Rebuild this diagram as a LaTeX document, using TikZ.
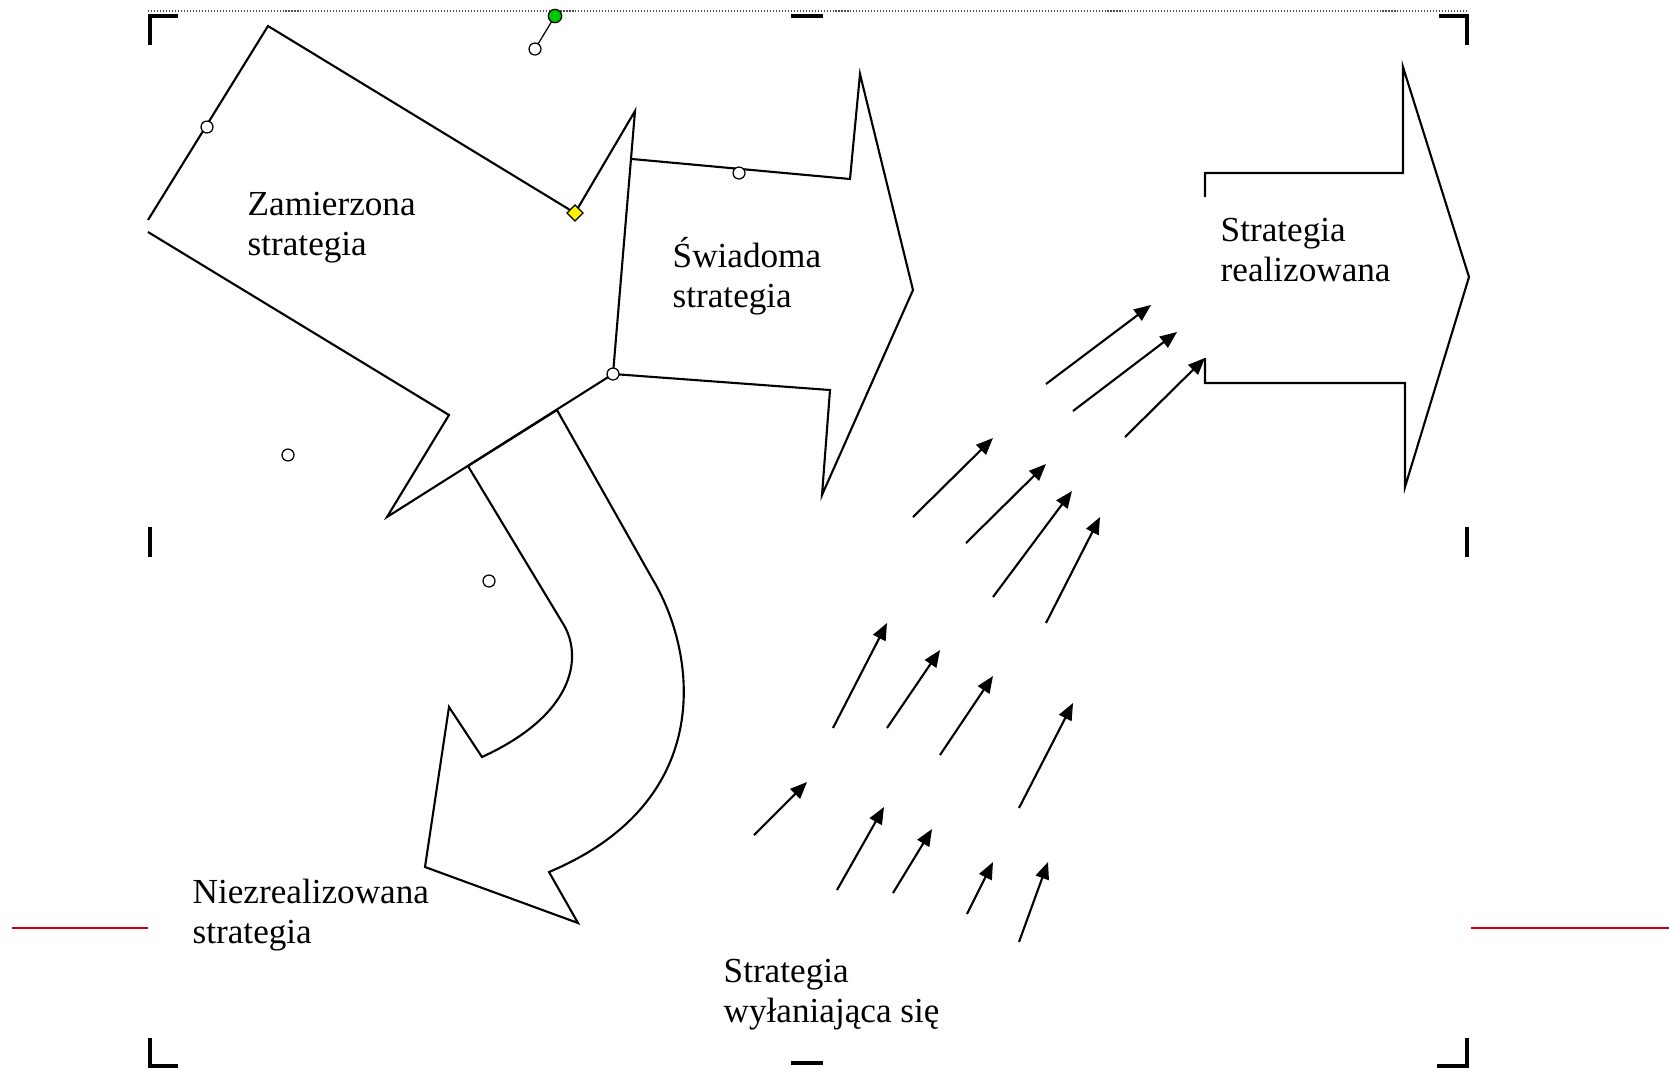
\documentclass[tikz,border=0pt]{standalone}
\usepackage{fontspec}
\setmainfont{Liberation Serif}
\usetikzlibrary{arrows.meta}
\definecolor{selred}{RGB}{204,0,0}
\definecolor{handlegreen}{RGB}{0,200,0}
\tikzset{>=Stealth,every node/.style={font=\fontsize{10}{11.2}\selectfont},
  edge/.style={line width=.6pt,line join=miter},
  flow/.style={line width=.6pt,-{Triangle[length=4.8pt,width=3.9pt]}},
  handle/.style={draw,line width=.35pt,fill=white},
  crop/.style={line width=1.3pt},
  lbl/.style={anchor=base west,inner sep=0pt,align=left}}

\begin{document}
\begin{tikzpicture}[x=.01cm,y=-.01cm]
\useasboundingbox (0,0) rectangle (1669,1072);
% selection frame
\draw[black!70,line width=.35pt,dash pattern=on .3pt off .55pt] (148,11)--(1467,11);
\draw[crop] (150,45)--(150,16)--(178,16) (791,16)--(823,16) (1439,16)--(1467,16)--(1467,45);
\draw[crop] (150,527)--(150,557) (1467,527)--(1467,557);
\draw[crop] (150,1038)--(150,1066)--(178,1066) (791,1063)--(823,1063) (1437,1066)--(1467,1066)--(1467,1038);
\draw[selred,line width=.65pt] (12,928)--(148,928) (1471,928)--(1669,928);
% block arrows
\draw[edge] (148,220)--(268,26)--(575,213)--(635,111)--(613,374)--(387,517)--(449,415)--(148,232);
\draw[edge] (632,159)--(850,179)--(860,74)--(913,290)--(822,495)--(830,390)--(613,374);
\draw[edge] (468,466)--(562,622) .. controls (582,652) and (580,712) .. (482,757)--(449,707)--(425,867)--(578,923)--(549,872) .. controls (720,800) and (695,650) .. (653,580)--(557,410)--cycle;
\draw[edge] (1205,197)--(1205,173)--(1403,173)--(1403,67)--(1469,277)--(1405,487)--(1405,383)--(1205,383)--(1205,358);
% emerging strategy
\foreach \xa/\ya/\xb/\yb in {1046/384/1151/305,1073/411/1177/332,1125/437/1205/358,913/517/993/438,
  966/543/1046/464,993/597/1072/491,1046/623/1100/517,833/728/887/623,887/728/940/650,940/755/993/676,
  1019/808/1073/703,754/835/807/782,837/890/884/807,893/893/932/829,967/914/993/862,1019/942/1048/862}
  \draw[flow] (\xa,\ya)--(\xb,\yb);
% handles
\draw[line width=.35pt] (535,49)--(555,16);
\foreach \p in {(207,127),(739,173),(613,374),(288,455),(489,581),(535,49)} \draw[handle] \p circle(1.7pt);
\draw[line width=.35pt,fill=handlegreen] (555,16) circle(1.9pt);
\draw[line width=.35pt,fill=yellow] (575,205)--(583,213)--(575,221)--(567,213)--cycle;
% labels
\node[lbl] (zam) at (247,255) {Zamierzona\\strategia};
\node[lbl] (swi) at (672,307) {Świadoma\\strategia};
\node[lbl] (real) at (1220,281) {Strategia\\realizowana};
\node[lbl] (niez) at (192,943) {Niezrealizowana\\strategia};
\node[lbl] (wyl) at (723,1022) {Strategia\\wyłaniająca się};
\end{tikzpicture}
\end{document}
